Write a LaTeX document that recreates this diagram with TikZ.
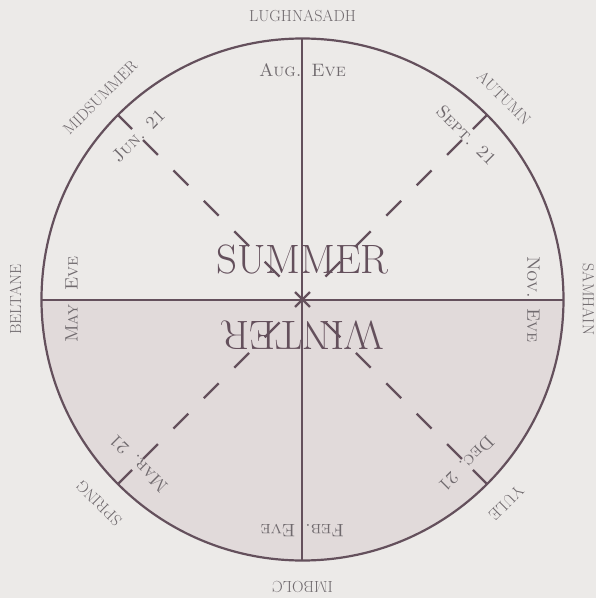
\documentclass[tikz,border=0pt]{standalone}
\usepackage{fontspec}
\definecolor{bg}{RGB}{236,234,232}
\definecolor{winterfill}{RGB}{225,218,218}
\definecolor{ink}{RGB}{100,80,92}
\definecolor{txt}{RGB}{112,106,110}
\tikzset{
  rim/.style={draw=ink, line width=2.2pt},
  diam/.style={draw=ink, line width=2pt},
  diag/.style={draw=ink, line width=2.4pt, dash pattern=on 21pt off 22pt},
  tick/.style={draw=ink, line width=2.4pt},
  outerlbl/.style={text=txt, inner sep=0pt, font=\fontsize{16}{18}\selectfont},
  datelbl/.style={text=txt, inner sep=0pt, font=\fontsize{18}{20}\selectfont\scshape},
  season/.style={text=ink, inner sep=0pt, font=\fontsize{41}{44}\selectfont\addfontfeatures{FakeBold=1.2}}
}
\begin{document}
\begin{tikzpicture}[x=1pt,y=1pt]
\fill[bg] (-302.5,-298.5) rectangle (293.5,299.5);
\useasboundingbox (-302.5,-298.5) rectangle (293.5,299.5);
% lower (winter) half
\fill[winterfill] (-261,0) arc (180:360:261) -- cycle;
% rim
\node[circle, minimum size=522pt, inner sep=0pt, outer sep=0pt] (ring) at (0,0) {};
\draw[rim] (0,0) circle (261);
% season words
\node[season] (summer) at (0,40) {SUMMER};
\node[season, rotate=180] (winter) at (0,-36) {WINTER};
% diameters
\draw[diam] (ring.north) -- (ring.south);
\draw[diam] (ring.west) -- (ring.east);
% dashed diagonals
\coordinate (dNW) at (135:225.5);
\coordinate (dSE) at (-45:225.5);
\coordinate (dNE) at (45:225.5);
\coordinate (dSW) at (-135:225.5);
\draw[diag] (dNW) -- (dSE);
\draw[diag] (dNE) -- (dSW);
% ticks
\foreach \a in {45,135,225,315}{
  \coordinate (t\a) at (\a:241);
  \draw[tick] (t\a) -- (ring.\a);
}
% outer festival names
\node[outerlbl] (lugh) at (90:284) {LUGHNASADH};
\node[outerlbl, rotate=-45] (autumn) at (45:285) {AUTUMN};
\node[outerlbl, rotate=-90] (samhain) at (0:286) {SAMHAIN};
\node[outerlbl, rotate=-135] (yule) at (-45:288) {YULE};
\node[outerlbl, rotate=180] (imbolc) at (-90:287) {IMBOLC};
\node[outerlbl, rotate=135] (spring) at (-135:288) {SPRING};
\node[outerlbl, rotate=90] (beltane) at (180:287) {BELTANE};
\node[outerlbl, rotate=45] (midsummer) at (135:286) {MIDSUMMER};
% inner date labels
\node[datelbl] (aug) at (90:229) {Aug.\ \,Eve};
\node[datelbl, rotate=-45] (sep) at (45:232) {Sept. 21};
\node[datelbl, rotate=-90] (nov) at (0:231) {Nov.\ \,Eve};
\node[datelbl, rotate=-135] (dec) at (-45:232) {Dec. 21};
\node[datelbl, rotate=180] (feb) at (-90:231) {Feb.\ \,Eve};
\node[datelbl, rotate=135] (mar) at (-135:232) {Mar. 21};
\node[datelbl, rotate=90] (may) at (180:231) {May\ \ Eve};
\node[datelbl, rotate=45] (jun) at (135:232) {Jun. 21};
\end{tikzpicture}
\end{document}
